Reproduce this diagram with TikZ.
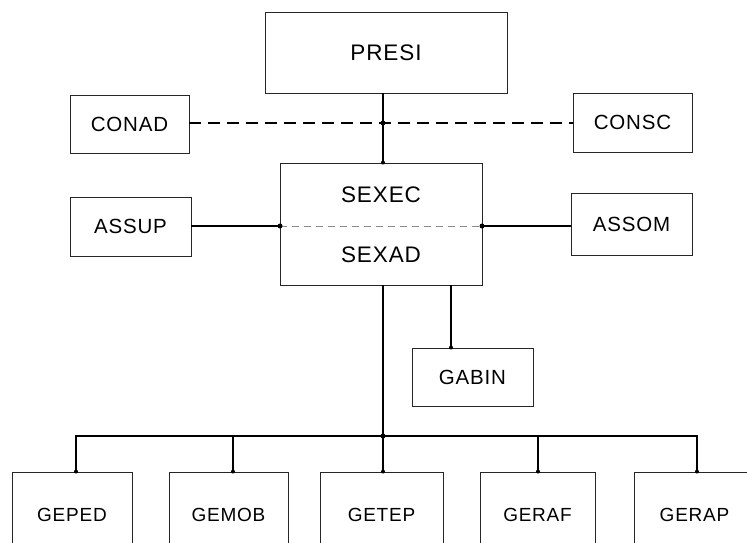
\documentclass[tikz,border=0pt]{standalone}
\usepackage{fontspec}
\setmainfont{Liberation Sans}[LetterSpace=4]
\begin{document}
\begin{tikzpicture}[x=1pt,y=-1pt,
  box/.style={draw=black!85,line width=0.9pt,inner sep=0pt,font=\fontsize{20.5}{22}\selectfont},
  bigfont/.style={font=\fontsize{22.5}{24}\selectfont},
  lowfont/.style={font=\fontsize{19}{21}\selectfont},
  conn/.style={line width=2pt,black},
  dashconn/.style={line width=2.2pt,black,dash pattern=on 12pt off 7pt},
  divider/.style={line width=1pt,black!45,dash pattern=on 7pt off 5pt},
  jdot/.style={circle,fill=black,inner sep=0pt,minimum size=5pt}]
\useasboundingbox (0,0) rectangle (747,543);
\clip (0,0) rectangle (747,543);
\fill[white] (0,0) rectangle (747,543);
% boxes
\node[box,bigfont,minimum width=242pt,minimum height=81pt] (PRESI) at (386,52.5) {PRESI};
\node[box,minimum width=119pt,minimum height=58pt] (CONAD) at (129.5,124) {CONAD};
\node[box,minimum width=119pt,minimum height=59pt] (CONSC) at (632.5,122.5) {CONSC};
\node[box,minimum width=202pt,minimum height=122pt] (SEX) at (381,224) {};
\node[bigfont] (SEXEC) at (381,195) {SEXEC};
\node[bigfont] (SEXAD) at (381,255) {SEXAD};
\node[box,minimum width=121pt,minimum height=59pt] (ASSUP) at (130.5,226.5) {ASSUP};
\node[box,minimum width=121pt,minimum height=62pt] (ASSOM) at (631.5,224.5) {ASSOM};
\node[box,minimum width=121pt,minimum height=58pt] (GABIN) at (472.5,377) {GABIN};
\node[box,lowfont,minimum width=120pt,minimum height=86pt] (GEPED) at (72,515) {GEPED};
\node[box,lowfont,minimum width=119pt,minimum height=86pt] (GEMOB) at (228.5,515) {GEMOB};
\node[box,lowfont,minimum width=123pt,minimum height=86pt] (GETEP) at (381.5,515) {GETEP};
\node[box,lowfont,minimum width=115pt,minimum height=86pt] (GERAF) at (537.5,515) {GERAF};
\node[box,lowfont,minimum width=121pt,minimum height=86pt] (GERAP) at (694.5,515) {GERAP};
% junction coordinates
\coordinate (j1) at (383,123);
\coordinate (jL) at (280,226);
\coordinate (jR) at (482,226);
\coordinate (jB) at (383,436);
\coordinate (jG) at (451,285);
% divider inside SEXEC/SEXAD
\draw[divider] (jL) -- (jR);
% PRESI to SEXEC
\draw[conn] (j1 |- PRESI.south) -- (j1 |- SEX.north);
% dashed council line
\draw[dashconn] (CONAD.east |- j1) -- (CONSC.west |- j1);
% staff
\draw[conn] (ASSUP.east |- jL) -- (jL);
\draw[conn] (jR) -- (ASSOM.west |- jR);
% GABIN
\draw[conn] (jG) -- (jG |- GABIN.north);
% main trunk and bus
\draw[conn] (jB |- SEX.south) -- (jB |- GETEP.north);
\draw[conn] ([xshift=4pt]GEPED.north) |- (jB) -| ([xshift=2.5pt]GERAP.north);
\draw[conn] ([xshift=4.5pt]GEMOB.north) -- ([xshift=4.5pt]GEMOB.north |- jB);
\draw[conn] ([xshift=0.5pt]GERAF.north) -- ([xshift=0.5pt]GERAF.north |- jB);
% dots
\foreach \p in {j1,jL,jR,jB} \node[jdot] at (\p) {};
\foreach \p in {([xshift=4pt]GEPED.north),([xshift=4.5pt]GEMOB.north),([xshift=1.5pt]GETEP.north),([xshift=0.5pt]GERAF.north),([xshift=2.5pt]GERAP.north),(jG |- GABIN.north),(j1 |- SEX.north)}
  \node[jdot,minimum size=4pt] at \p {};
\end{tikzpicture}
\end{document}
